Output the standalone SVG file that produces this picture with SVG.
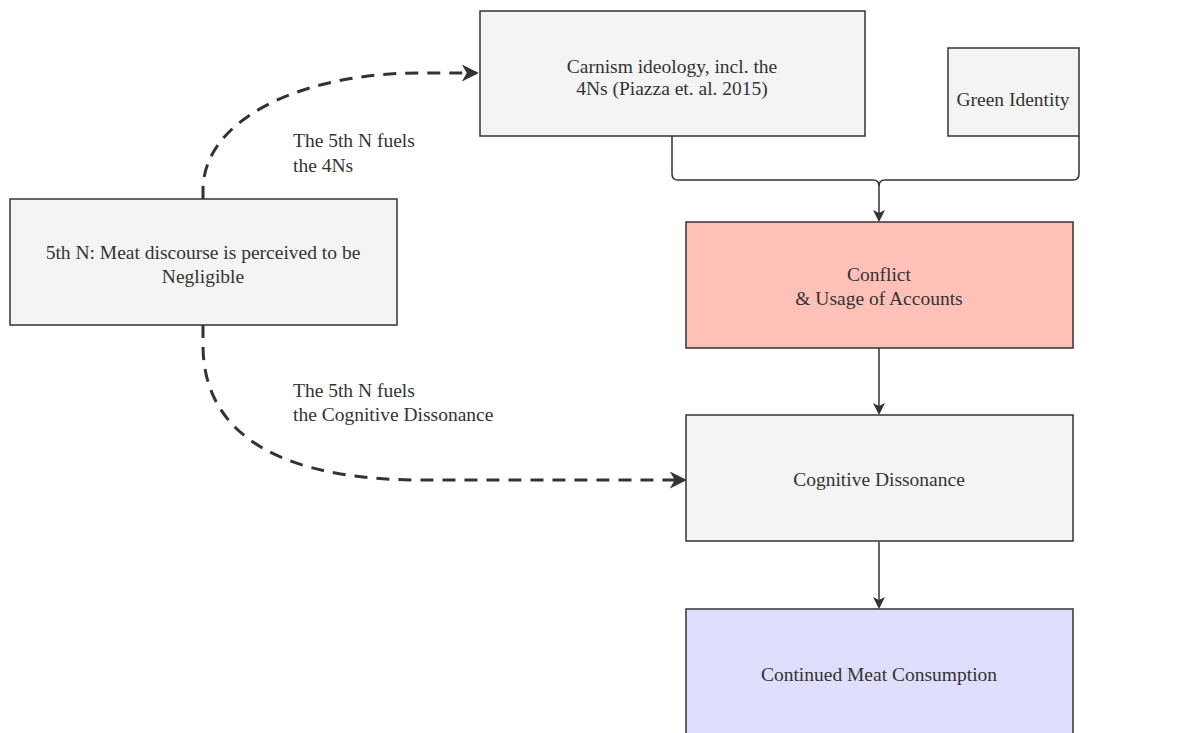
<svg xmlns="http://www.w3.org/2000/svg" width="1202" height="733" viewBox="0 0 1202 733">
<style>
.box{fill:#f4f4f4;stroke:#333;stroke-width:1.5}
.t{font-family:"Liberation Serif","Times New Roman","DejaVu Serif",serif;font-size:19.5px;fill:#333;text-anchor:middle}
.lbl{font-family:"Liberation Serif","Times New Roman","DejaVu Serif",serif;font-size:19.5px;fill:#333}
.edge{fill:none;stroke:#333;stroke-width:1.5}
.dash{fill:none;stroke:#333;stroke-width:3;stroke-dasharray:13 9}
</style>
<defs>
<marker id="ah" viewBox="0 0 12 12" refX="10" refY="6" markerWidth="12" markerHeight="12" markerUnits="userSpaceOnUse" orient="auto"><path d="M0,0 L12,6 L0,12 L3,6 z" fill="#333"/></marker>
<marker id="ahd" viewBox="0 0 12 12" refX="10" refY="6" markerWidth="17" markerHeight="17" markerUnits="userSpaceOnUse" orient="auto"><path d="M0,0 L12,6 L0,12 L3.5,6 z" fill="#333"/></marker>
</defs>
<rect width="1202" height="733" fill="#ffffff"/>
<g id="connectors">
<path class="edge" d="M672,136 V174 Q672,180 678,180 H873 Q879,180 879,186 V220" marker-end="url(#ah)"/>
<path class="edge" d="M1079,136 V174 Q1079,180 1073,180 H885 Q879,180 879,186"/>
<path class="edge" d="M879,348 V413" marker-end="url(#ah)"/>
<path class="edge" d="M879,542 V607" marker-end="url(#ah)"/>
<path class="dash" d="M203,199 V190 C203,120 300,73 420,73 H476" marker-end="url(#ahd)"/>
<path class="dash" d="M203,325 V345 C203,440 290,480 420,480 H684" marker-end="url(#ahd)"/>
</g>
<g id="n_carnism"><rect class="box" x="480" y="11" width="385" height="125"/>
<text class="t" x="672" y="73">Carnism ideology, incl. the</text><text class="t" x="672" y="95">4Ns (Piazza et. al. 2015)</text></g>
<g id="n_green"><rect class="box" x="948" y="48" width="131" height="88"/>
<text class="t" x="1013" y="106">Green Identity</text></g>
<g id="n_fifth"><rect class="box" x="10" y="199" width="387" height="126"/>
<text class="t" x="203" y="259">5th N: Meat discourse is perceived to be</text><text class="t" x="203" y="283">Negligible</text></g>
<g id="n_conflict"><rect class="box" style="fill:#ffc0b8" x="686" y="222" width="387" height="126"/>
<text class="t" x="879" y="281">Conflict</text><text class="t" x="879" y="305">&amp; Usage of Accounts</text></g>
<g id="n_cog"><rect class="box" x="686" y="415" width="387" height="126"/>
<text class="t" x="879" y="486">Cognitive Dissonance</text></g>
<g id="n_cont"><rect class="box" style="fill:#dfdefc" x="686" y="609" width="387" height="130"/>
<text class="t" x="879" y="681">Continued Meat Consumption</text></g>
<g id="labels">
<text class="lbl" x="293" y="147">The 5th N fuels</text><text class="lbl" x="293" y="172">the 4Ns</text>
<text class="lbl" x="293" y="397">The 5th N fuels</text><text class="lbl" x="293" y="421">the Cognitive Dissonance</text>
</g>
</svg>
